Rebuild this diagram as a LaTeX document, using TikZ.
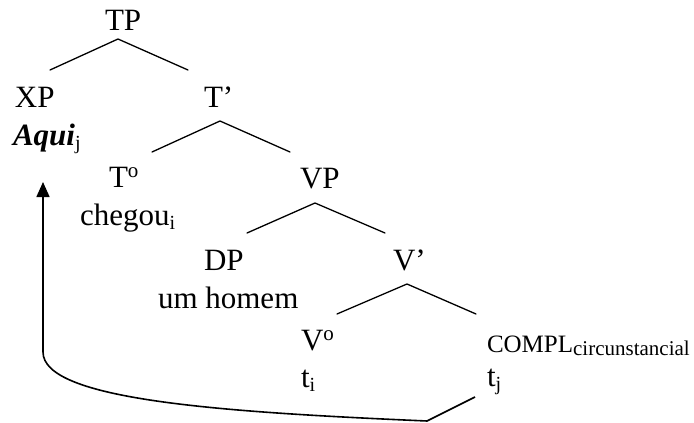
\documentclass[tikz,border=0pt]{standalone}
\usepackage{fontspec}
\setmainfont{Liberation Serif}
\usetikzlibrary{arrows.meta}
\newcommand\mysub[1]{\raisebox{-4pt}{\fontsize{20}{20}\selectfont #1}}
\newcommand\mysup[1]{\raisebox{10pt}{\fontsize{21}{21}\selectfont #1}}
\begin{document}
\begin{tikzpicture}[x=1pt,y=-1pt,
  lbl/.style={inner sep=0pt,outer sep=0pt,anchor=base west,font=\fontsize{31}{37}\selectfont},
  branch/.style={line width=1.3pt,line cap=round},
  movearrow/.style={line width=1.6pt,-{Triangle[length=15pt,width=13pt]}}]
\useasboundingbox (0,0) rectangle (694,423);
% labels
\node[lbl] (TP) at (105,30.5) {TP};
\node[lbl] (XP) at (15,107) {XP};
\node[lbl] (aqui) at (13,145) {\textbf{\textit{Aqui}}\mysub{j}};
\node[lbl] (Tbar) at (204,107) {T’};
\node[lbl] (T0) at (109,187) {T\mysup{o}};
\node[lbl] (chegou) at (80,225) {chegou\mysub{i}};
\node[lbl] (VP) at (300,188) {VP};
\node[lbl] (DP) at (204,270) {DP};
\node[lbl] (homem) at (158,308) {um homem};
\node[lbl] (Vbar) at (393,270) {V’};
\node[lbl] (V0) at (301,350) {V\mysup{o}};
\node[lbl] (ti) at (301,387) {t\mysub{i}};
\node[lbl,font=\fontsize{25}{30}\selectfont] (compl) at (487,352) {COMPL\raisebox{-3pt}{\fontsize{21}{21}\selectfont circunstancial}};
\node[lbl] (tj) at (487,386) {t\mysub{j}};
% branch points
\coordinate (a1) at (118,39);  \coordinate (l1) at (50,70);   \coordinate (r1) at (188,70);
\coordinate (a2) at (220,121); \coordinate (l2) at (152,152); \coordinate (r2) at (290,152);
\coordinate (a3) at (315,203); \coordinate (l3) at (247,233); \coordinate (r3) at (385,233);
\coordinate (a4) at (407,284); \coordinate (l4) at (337,314); \coordinate (r4) at (476,314);
\draw[branch] (l1) -- (a1) -- (r1);
\draw[branch] (l2) -- (a2) -- (r2);
\draw[branch] (l3) -- (a3) -- (r3);
\draw[branch] (l4) -- (a4) -- (r4);
% movement arrow
\coordinate (m0) at (475,397);
\coordinate (m1) at (427,421);
\coordinate (m2) at (43,352);
\coordinate (m3) at (43,182);
\draw[movearrow] (m0) -- (m1) .. controls (220,412) and (43,400) .. (m2) -- (m3);
\end{tikzpicture}
\end{document}
